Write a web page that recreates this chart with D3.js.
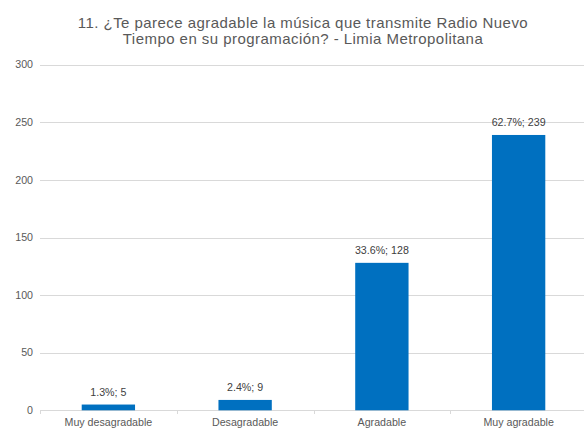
<!DOCTYPE html>
<html><head><meta charset="utf-8">
<script src="https://cdn.jsdelivr.net/npm/d3@7"></script>
<style>body{margin:0;background:#fff}svg{display:block}</style>
</head><body>
<script>
const titleLines = ["11. ¿Te parece agradable la música que transmite Radio Nuevo", "Tiempo en su programación? - Limia Metropolitana"];
const categories = ["Muy desagradable", "Desagradable", "Agradable", "Muy agradable"];
const counts = [5, 9, 128, 239];
const percents = ["1.3%", "2.4%", "33.6%", "62.7%"];
const yTicks = [0, 50, 100, 150, 200, 250, 300];

const W = 584, H = 431;
const svg = d3.select("body").append("svg").attr("width", W).attr("height", H);
const font = "'Liberation Sans', Arial, sans-serif";

const x = d3.scaleBand().domain(categories).range([40, 587]).paddingInner(0.61).paddingOuter(0.305);
const y = d3.scaleLinear().domain([0, 300]).range([410.3, 64.7]);
const step = x.step();

// gridlines
svg.append("g").selectAll("line").data(yTicks).join("line")
  .attr("x1", 40).attr("x2", 587)
  .attr("y1", d => Math.round(y(d)) + 0.5).attr("y2", d => Math.round(y(d)) + 0.5)
  .attr("stroke", "#d9d9d9").attr("stroke-width", 1);

// y tick labels
svg.append("g").selectAll("text").data(yTicks).join("text")
  .attr("x", 33).attr("y", d => y(d)).attr("dy", "0.35em")
  .attr("text-anchor", "end").attr("font-family", font).attr("font-size", "10.67px")
  .attr("fill", "#595959").text(d => d);

// category boundary ticks
const bounds = d3.range(categories.length + 1).map(i => 40 + i * step);
svg.append("g").selectAll("line").data(bounds).join("line")
  .attr("x1", d => Math.round(d) + 0.5).attr("x2", d => Math.round(d) + 0.5)
  .attr("y1", Math.round(y(0))).attr("y2", Math.round(y(0)) + 4)
  .attr("stroke", "#d9d9d9");

// bars
svg.append("g").selectAll("rect").data(categories).join("rect")
  .attr("x", d => x(d)).attr("width", x.bandwidth())
  .attr("y", (d, i) => y(counts[i])).attr("height", (d, i) => y(0) - y(counts[i]))
  .attr("fill", "#0070C0");

// data labels
svg.append("g").selectAll("text").data(categories).join("text")
  .attr("x", d => x(d) + x.bandwidth() / 2).attr("y", (d, i) => y(counts[i]) - 8.5)
  .attr("text-anchor", "middle").attr("font-family", font).attr("font-size", "10.67px")
  .attr("fill", "#404040").text((d, i) => percents[i] + "; " + counts[i]);

// category labels
svg.append("g").selectAll("text").data(categories).join("text")
  .attr("x", d => x(d) + x.bandwidth() / 2).attr("y", 426)
  .attr("text-anchor", "middle").attr("font-family", font).attr("font-size", "10.67px")
  .attr("fill", "#595959").text(d => d);

// title
svg.append("g").selectAll("text").data(titleLines).join("text")
  .attr("x", 303).attr("y", (d, i) => 28.3 + i * 15.5)
  .attr("text-anchor", "middle").attr("font-family", font).attr("font-size", "15px")
  .attr("letter-spacing", "0.45px")
  .attr("fill", "#595959").text(d => d);
</script>
</body></html>
